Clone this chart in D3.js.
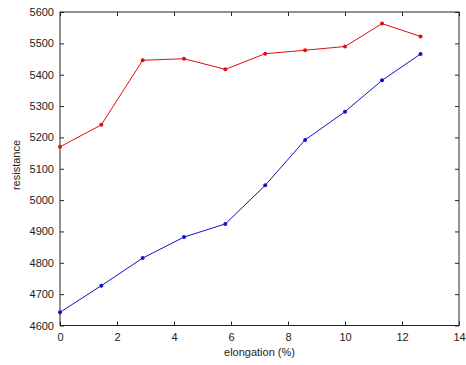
<!DOCTYPE html>
<html>
<head>
<meta charset="utf-8">
<script src="https://cdn.jsdelivr.net/npm/d3@7"></script>
<style>
  body { margin: 0; background: #fff; }
  text { font-family: "Liberation Sans", Arial, sans-serif; }
</style>
</head>
<body>
<div id="chart"></div>
<script>
const elongation = [0, 1.45, 2.9, 4.35, 5.8, 7.2, 8.6, 10, 11.3, 12.65];
const upperResistance = [5170, 5240, 5446, 5451, 5417, 5467, 5478, 5490, 5563, 5522];
const lowerResistance = [4642, 4727, 4815, 4882, 4924, 5047, 5192, 5282, 5382, 5466];
const xTicks = [0, 2, 4, 6, 8, 10, 12, 14];
const yTicks = [4600, 4700, 4800, 4900, 5000, 5100, 5200, 5300, 5400, 5500, 5600];

const width = 466, height = 365;
const margin = { top: 12, right: 7, bottom: 39.5, left: 60 };

const svg = d3.select('#chart')
  .append('svg')
  .attr('width', width)
  .attr('height', height);

const x = d3.scaleLinear()
  .domain([0, 14])
  .range([margin.left, width - margin.right]);

const y = d3.scaleLinear()
  .domain([4600, 5600])
  .range([height - margin.bottom, margin.top]);

const tickLen = 4;
const axisColor = '#262626';

// box
svg.append('rect')
  .attr('x', x(0))
  .attr('y', y(5600))
  .attr('width', x(14) - x(0))
  .attr('height', y(4600) - y(5600))
  .attr('fill', 'none')
  .attr('stroke', axisColor)
  .attr('stroke-width', 1);

// inward ticks on all four sides
svg.append('g')
  .attr('transform', `translate(0,${y(4600)})`)
  .call(d3.axisBottom(x).tickValues(xTicks).tickSizeInner(-tickLen).tickSizeOuter(0).tickPadding(8))
  .call(g => g.select('.domain').remove())
  .call(g => g.selectAll('line').attr('stroke', axisColor))
  .call(g => g.selectAll('text').attr('font-size', '11px').attr('fill', '#222'));

svg.append('g')
  .attr('transform', `translate(0,${y(5600)})`)
  .call(d3.axisTop(x).tickValues(xTicks).tickSizeInner(-tickLen).tickSizeOuter(0).tickFormat(''))
  .call(g => g.select('.domain').remove())
  .call(g => g.selectAll('line').attr('stroke', axisColor));

svg.append('g')
  .attr('transform', `translate(${x(0)},0)`)
  .call(d3.axisLeft(y).tickValues(yTicks).tickSizeInner(-tickLen).tickSizeOuter(0).tickPadding(6).tickFormat(d3.format('d')))
  .call(g => g.select('.domain').remove())
  .call(g => g.selectAll('line').attr('stroke', axisColor))
  .call(g => g.selectAll('text').attr('font-size', '11px').attr('fill', '#222'));

svg.append('g')
  .attr('transform', `translate(${x(14)},0)`)
  .call(d3.axisRight(y).tickValues(yTicks).tickSizeInner(-tickLen).tickSizeOuter(0).tickFormat(''))
  .call(g => g.select('.domain').remove())
  .call(g => g.selectAll('line').attr('stroke', axisColor));

// series
const series = [
  { values: upperResistance, color: '#dd1111' },
  { values: lowerResistance, color: '#1111cc' }
];

const line = d3.line()
  .x((d, i) => x(elongation[i]))
  .y(d => y(d));

series.forEach(s => {
  svg.append('path')
    .datum(s.values)
    .attr('d', line)
    .attr('fill', 'none')
    .attr('stroke', s.color)
    .attr('stroke-width', 1);

  svg.selectAll(null)
    .data(s.values)
    .enter()
    .append('circle')
    .attr('cx', (d, i) => x(elongation[i]))
    .attr('cy', d => y(d))
    .attr('r', 2)
    .attr('fill', s.color);
});

// axis labels
svg.append('text')
  .attr('x', (x(0) + x(14)) / 2)
  .attr('y', 356)
  .attr('text-anchor', 'middle')
  .attr('font-size', '11px')
  .attr('fill', '#222')
  .text('elongation (%)');

svg.append('text')
  .attr('transform', 'translate(20,165) rotate(-90)')
  .attr('text-anchor', 'middle')
  .attr('font-size', '11px')
  .attr('fill', '#222')
  .text('resistance');
</script>
</body>
</html>
